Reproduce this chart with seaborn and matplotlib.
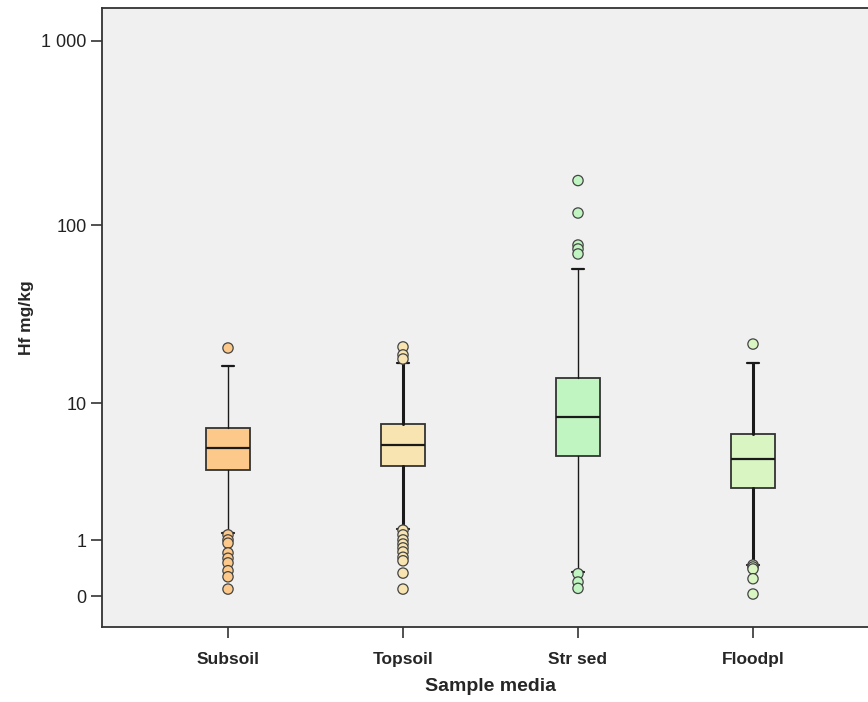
import numpy as np
import pandas as pd
import matplotlib
matplotlib.use("Agg")
import matplotlib.pyplot as plt
import seaborn as sns

# values (Hf mg/kg)
media = ["Subsoil", "Topsoil", "Str sed", "Floodpl"]
q1 = [3.80, 4.04, 4.71, 2.84]
median = [5.31, 5.55, 8.28, 4.50]
q3 = [7.09, 7.51, 14.1, 6.51]
whisker_lo = [1.18, 1.30, 0.34, 0.48]
whisker_hi = [16.5, 17.2, 57.6, 17.2]

out_subsoil = [20.9, 1.14, 1.01, 0.93, 0.71, 0.60, 0.51, 0.37, 0.27, 0.09]
out_topsoil = [21.2, 19.1, 18.1, 1.27, 1.14, 1.01, 0.91, 0.82, 0.73, 0.62, 0.55, 0.33, 0.09]
out_strsed = [175, 116.5, 77.9, 74.1, 69.6, 0.32, 0.19, 0.10]
out_floodpl = [22.0, 0.47, 0.435, 0.40, 0.24, 0.025]

colors = ["#fcc98a", "#f7e4b0", "#c0f5c2", "#d8f5c2"]
whisker_lw = [1.0, 2.2, 1.0, 2.2]

sns.set_style("ticks")
plt.rcParams["font.family"] = ["Liberation Sans", "DejaVu Sans"]

fig = plt.figure(figsize=(8.68, 7.02), dpi=100)
ax = fig.add_axes([102 / 868, 75 / 702, 777 / 868, 619 / 702])
ax.set_facecolor("#f0f0f0")

fwd = lambda v: np.log10(np.clip(v, -0.99, None) + 1)
inv = lambda t: 10 ** t - 1
ax.set_yscale("function", functions=(fwd, inv))

for i, m in enumerate(media):
    st = [dict(med=median[i], q1=q1[i], q3=q3[i], whislo=whisker_lo[i],
               whishi=whisker_hi[i], fliers=[], label=m)]
    ax.bxp(st, positions=[i], widths=0.25, showfliers=False, patch_artist=True,
           capwidths=0.07,
           boxprops=dict(facecolor=colors[i], edgecolor="#333333", linewidth=1.3),
           medianprops=dict(color="#1a1a1a", linewidth=1.6),
           whiskerprops=dict(color="#1a1a1a", linewidth=whisker_lw[i]),
           capprops=dict(color="#1a1a1a", linewidth=1.6))

outliers = pd.DataFrame({
    "media": (["Subsoil"] * len(out_subsoil) + ["Topsoil"] * len(out_topsoil)
              + ["Str sed"] * len(out_strsed) + ["Floodpl"] * len(out_floodpl)),
    "hf": out_subsoil + out_topsoil + out_strsed + out_floodpl,
})
outliers["pos"] = outliers["media"].map({m: i for i, m in enumerate(media)})
sns.scatterplot(data=outliers, x="pos", y="hf", hue="media", palette=dict(zip(media, colors)),
                s=55, edgecolor="#444444", linewidth=0.9, legend=False, ax=ax, zorder=5)

ax.set_xlim(-0.72, 3.72)
ax.set_ylim(-0.32, 1506)
ax.set_yticks([0, 1, 10, 100, 1000])
ax.set_yticklabels(["0", "1", "10", "100", "1 000"])
ax.yaxis.set_minor_locator(matplotlib.ticker.NullLocator())
ax.set_xticks(range(len(media)))
ax.set_xticklabels(media, fontweight="bold", fontsize=12.5)
ax.tick_params(axis="y", length=8, width=1.2, color="#333333", labelsize=13,
               labelcolor="#222222", pad=3)
ax.tick_params(axis="x", length=8, width=1.2, color="#333333", pad=10)

ax.set_xlabel("Sample media", fontweight="bold", fontsize=14, labelpad=8)
ax.set_ylabel("Hf mg/kg", fontweight="bold", fontsize=12.5, labelpad=5)

for s in ax.spines.values():
    s.set_color("#333333")
    s.set_linewidth(1.3)

fig.savefig("out.png", dpi=100)
